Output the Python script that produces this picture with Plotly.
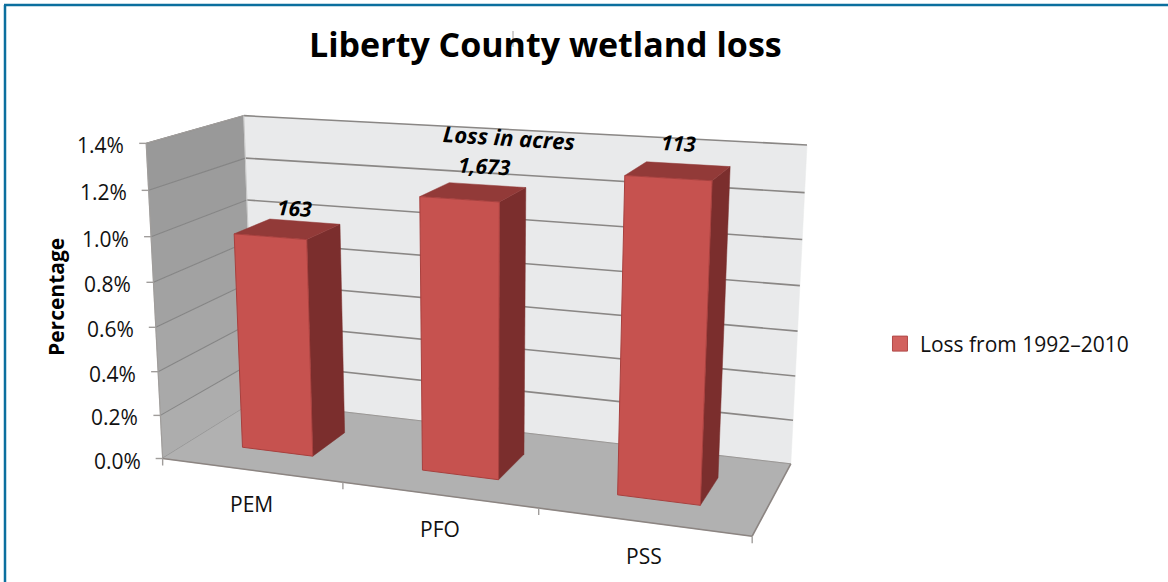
import numpy as np
import plotly.graph_objects as go

# ---- data ----
categories = ["PEM", "PFO", "PSS"]
loss_pct = [0.98, 1.20, 1.34]
acres_labels = ["163", "1,673", "113"]
tick_values = [0.0, 0.2, 0.4, 0.6, 0.8, 1.0, 1.2, 1.4]
tick_labels = ["0.0%", "0.2%", "0.4%", "0.6%", "0.8%", "1.0%", "1.2%", "1.4%"]
series_name = "Loss from 1992–2010"
title_text = "Liberty County wetland loss"

# ---- 3-D box -> page projection (x: category units, y: depth 0-1, z: percent) ----
PROJ = np.array([[1.666347e+02, 1.190146e+02, -1.687981e+01, 1.626488e+02],
                 [4.595001e+00, -1.389731e+01, -2.301383e+02, 4.585051e+02],
                 [-3.972081e-02, 1.074635e-01, -3.508515e-02, 1.0]])
ZMAX = tick_values[-1]
XMAX = len(categories)
BAR_HALF = 0.2
DEPTH = (0.29, 0.68)
LABEL_NUDGE = [(5, -3), (10, -8), (0, -10)]
FONT = "Open Sans"
WALL_BACK = "#E9EAEB"
FLOOR = "#B1B1B1"
FRONT, SIDE, TOP = "#C6524F", "#7B2E2D", "#923A38"
GRID = "#8A8785"
FRAME = "#0B6F9E"


def pr(x, y, z):
    q = PROJ @ np.array([x, y, z, 1.0])
    return q[0] / q[2], q[1] / q[2]


fig = go.Figure()


def poly(points, color, line=None, width=0):
    pts = [pr(*p) for p in points]
    pts.append(pts[0])
    fig.add_trace(go.Scatter(x=[a for a, _ in pts], y=[b for _, b in pts], mode="lines",
                             fill="toself", fillcolor=color,
                             line=dict(color=line or color, width=width or 0.5),
                             hoverinfo="skip", showlegend=False))


def segs(pairs, color, width):
    xs, ys = [], []
    for a, b in pairs:
        xs += [a[0], b[0], None]
        ys += [a[1], b[1], None]
    fig.add_trace(go.Scatter(x=xs, y=ys, mode="lines", line=dict(color=color, width=width),
                             hoverinfo="skip", showlegend=False))


# left wall, shaded in bands between the gridlines
shades = ["#ADADAD", "#A9A9A9", "#A6A6A6", "#A2A2A2", "#9F9F9F", "#9C9C9C", "#999999"]
for lo, hi, c in zip(tick_values[:-1], tick_values[1:], shades):
    poly([(0, 0, lo), (0, 1, lo), (0, 1, hi), (0, 0, hi)], c)
# back wall
poly([(0, 1, 0), (XMAX, 1, 0), (XMAX, 1, ZMAX), (0, 1, ZMAX)], WALL_BACK)
# gridlines
segs([(pr(0, 1, z), pr(XMAX, 1, z)) for z in tick_values[1:]], GRID, 1.6)
segs([(pr(0, 0, z), pr(0, 1, z)) for z in tick_values], "#858585", 1.1)
segs([(pr(0, 0, 0), pr(0, 0, ZMAX)), (pr(0, 0, ZMAX), pr(0, 1, ZMAX))], "#A09D9B", 1.2)
segs([(pr(0, 1, 0), pr(0, 1, ZMAX))], "#C8C8C8", 1)
# floor
poly([(0, 0, 0), (XMAX, 0, 0), (XMAX, 1, 0), (0, 1, 0)], FLOOR)
segs([(pr(0, 0, 0), pr(XMAX, 0, 0)), (pr(XMAX, 0, 0), pr(XMAX, 1, 0))], "#8C8582", 1.6)
segs([(pr(0, 1, 0), pr(XMAX, 1, 0))], "#9A9795", 1)

# ticks
segs([(pr(0, 0, z), (pr(0, 0, z)[0] - 7, pr(0, 0, z)[1])) for z in tick_values], "#A09D9B", 1.4)
segs([(pr(i, 0, 0), (pr(i, 0, 0)[0], pr(i, 0, 0)[1] + 7)) for i in range(XMAX + 1)], "#A09D9B", 1.4)

# bars
for i, v in enumerate(loss_pct):
    x0, x1 = i + 0.5 - BAR_HALF, i + 0.5 + BAR_HALF
    y0, y1 = DEPTH
    poly([(x1, y0, 0), (x1, y1, 0), (x1, y1, v), (x1, y0, v)], SIDE)
    poly([(x0, y0, v), (x1, y0, v), (x1, y1, v), (x0, y1, v)], TOP)
    poly([(x0, y0, 0), (x1, y0, 0), (x1, y0, v), (x0, y0, v)], FRONT, "#A8403E", 1)

# legend entry
fig.add_trace(go.Scatter(x=[-50], y=[-50], mode="markers", name=series_name,
                         marker=dict(symbol="square", size=15, color="#D2625F",
                                     line=dict(color="#B14A48", width=1)),
                         hoverinfo="skip"))

ann = []


def label(x, y, text, size, color="#111111", bold=False, italic=False, angle=0, anchor="center"):
    t = f"<b>{text}</b>" if bold else text
    t = f"<i>{t}</i>" if italic else t
    ann.append(dict(x=x, y=y, xref="x", yref="y", text=t, showarrow=False, textangle=angle,
                    xanchor=anchor, yanchor="middle",
                    font=dict(family=FONT, size=size, color=color)))


for z, t in zip(tick_values, tick_labels):
    px, py = pr(0, 0, z)
    label(px - 20, py + 2, t, 21, anchor="right")
for i, c in enumerate(categories):
    px, py = pr(i + 0.5, 0, 0)
    label(px + 1, py + 34, c, 21)
for i, (t, v) in enumerate(zip(acres_labels, loss_pct)):
    px, py = pr(i + 0.5, 0.5, v)
    label(px + LABEL_NUDGE[i][0], py - 17 + LABEL_NUDGE[i][1], t, 21, color="#000000",
          bold=True, italic=True, angle=3)
px, py = pr(1.5, 0.5, loss_pct[1])
label(px + 34, py - 54, "Loss in acres", 22, color="#000000", bold=True, italic=True, angle=3.5)
label(56, 297, "Percentage", 21, color="#000000", bold=True, angle=-90)
label(545, 44, title_text, 34, color="#000000", bold=True)

fig.update_layout(
    width=1168, height=582, margin=dict(l=0, r=0, t=0, b=0),
    paper_bgcolor="white", plot_bgcolor="white",
    xaxis=dict(range=[0, 1168], visible=False, fixedrange=True),
    yaxis=dict(range=[582, 0], visible=False, fixedrange=True),
    showlegend=True,
    legend=dict(x=0.7534, y=0.409, xanchor="left", yanchor="middle", bgcolor="rgba(0,0,0,0)",
                font=dict(family=FONT, size=21, color="#111111"), itemwidth=30),
    annotations=ann,
    shapes=[
        dict(type="line", xref="x", yref="y", x0=5, x1=5, y0=5, y1=582, line=dict(color=FRAME, width=2.5)),
        dict(type="line", xref="x", yref="y", x0=4, x1=1168, y0=5, y1=5, line=dict(color=FRAME, width=2.5)),
        dict(type="line", xref="x", yref="y", x0=513, x1=513, y0=31, y1=47, line=dict(color="#777777", width=0.7)),
    ],
)
fig.write_html("out.html", config={"displayModeBar": False},
               post_script="document.body.style.margin='0';document.body.style.overflow='hidden';")
